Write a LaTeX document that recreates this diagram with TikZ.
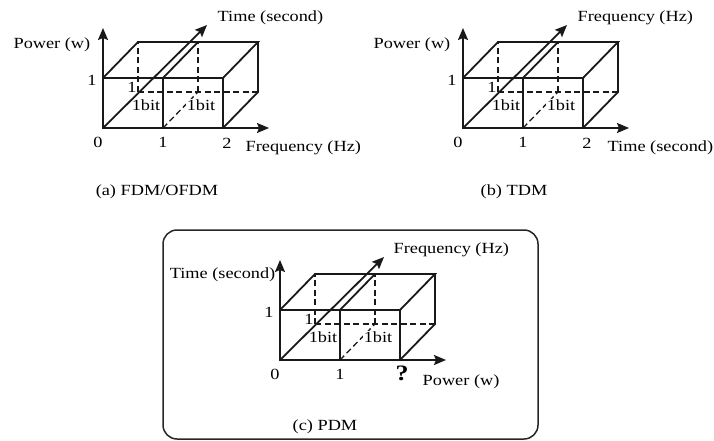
\documentclass[tikz,border=0pt]{standalone}
\usepackage{fontspec}
\setmainfont{Liberation Serif}[FakeStretch=1.18]
\usetikzlibrary{arrows.meta}
\tikzset{
  edge/.style={line width=1.8pt, line join=miter, draw=black!90},
  hidden/.style={line width=1.3pt, dash pattern=on 6pt off 3.5pt, draw=black!90},
  axis/.style={line width=1.8pt, draw=black!90, -{Stealth[length=12pt,width=10pt,inset=2pt]}},
  lbl/.style={font=\fontsize{15.5}{18}\selectfont, inner sep=0.5pt},
  bitlbl/.style={lbl, fill=white, inner sep=1pt},
  qlbl/.style={font=\fontsize{22}{22}\selectfont\bfseries, inner sep=0.5pt},
  frame/.style={line width=1.5pt, rounded corners=14pt, draw=black!85},
}
% geometry of one box diagram, drawn in the current (shifted) scope
\newcommand{\cubepanel}[1]{%
  \coordinate (#1O) at (0,0);
  \coordinate (#1A) at (60,0);
  \coordinate (#1B) at (120,0);
  \coordinate (#1C) at (0,-50);
  \coordinate (#1D) at (60,-50);
  \coordinate (#1E) at (120,-50);
  \coordinate (#1F) at (35,-36);
  \coordinate (#1G) at (95,-36);
  \coordinate (#1H) at (155,-36);
  \coordinate (#1I) at (35,-86);
  \coordinate (#1J) at (95,-86);
  \coordinate (#1K) at (155,-86);
  \coordinate (#1X) at (166,0);
  \coordinate (#1Y) at (0,-100);
  \coordinate (#1Z) at (104,-103);
  % hidden edges
  \draw[hidden] (#1F) -- (#1I);
  \draw[hidden] (#1F) -- (#1H);
  \draw[hidden] (#1G) -- (#1J);
  \draw[hidden] (#1A) -- (#1G);
  % labels inside the box
  \node[bitlbl] (#1bitL) at (43,-23) {1bit};
  \node[bitlbl] (#1bitR) at (98,-23) {1bit};
  \node[lbl] (#1depth) at (29,-41) {1};
  % visible edges
  \draw[edge] (#1O) -- (#1B) -- (#1E) -- (#1C) -- cycle;
  \draw[edge] (#1A) -- (#1D);
  \draw[edge] (#1C) -- (#1I) -- (#1K) -- (#1E);
  \draw[edge] (#1D) -- (#1J);
  \draw[edge] (#1K) -- (#1H) -- (#1B);
  % axes
  \draw[axis] (#1O) -- (#1X);
  \draw[axis] (#1O) -- (#1Y);
  \draw[axis] (#1O) -- (#1Z);
  % ticks
  \node[lbl] (#1t0) at (-5,14) {0};
  \node[lbl] (#1t1) at (60,14) {1};
  \node[lbl] (#1y1) at (-11,-48) {1};
}
\begin{document}
\begin{tikzpicture}[x=1pt,y=-1pt]
\useasboundingbox (0,0) rectangle (714,441);

% (a)
\begin{scope}[shift={(103,128)}]
  \cubepanel{a}
  \node[lbl] (at2) at (124,15) {2};
  \node[lbl, anchor=east] (aP) at (-12,-83) {Power (w)};
  \node[lbl, anchor=west] (aT) at (114,-110) {Time (second)};
  \node[lbl, anchor=west] (aF) at (142,20) {Frequency (Hz)};
\end{scope}
\node[lbl] (capA) at (157,192) {(a) FDM/OFDM};

% (b)
\begin{scope}[shift={(463,128)}]
  \cubepanel{b}
  \node[lbl] (bt2) at (124,15) {2};
  \node[lbl, anchor=east] (bP) at (-12,-83) {Power (w)};
  \node[lbl, anchor=west] (bF) at (114,-110) {Frequency (Hz)};
  \node[lbl, anchor=west] (bT) at (144,20) {Time (second)};
\end{scope}
\node[lbl] (capB) at (514,192) {(b) TDM};

% (c)
\draw[frame] (163,230) rectangle (538,439);
\begin{scope}[shift={(280,360)}]
  \cubepanel{c}
  \node[qlbl] (cq) at (122,13) {?};
  \node[lbl, anchor=east] (cT) at (-4,-85) {Time (second)};
  \node[lbl, anchor=west] (cF) at (113,-110) {Frequency (Hz)};
  \node[lbl, anchor=west] (cP) at (142,22) {Power (w)};
\end{scope}
\node[lbl] (capC) at (325,427) {(c) PDM};
\end{tikzpicture}
\end{document}
